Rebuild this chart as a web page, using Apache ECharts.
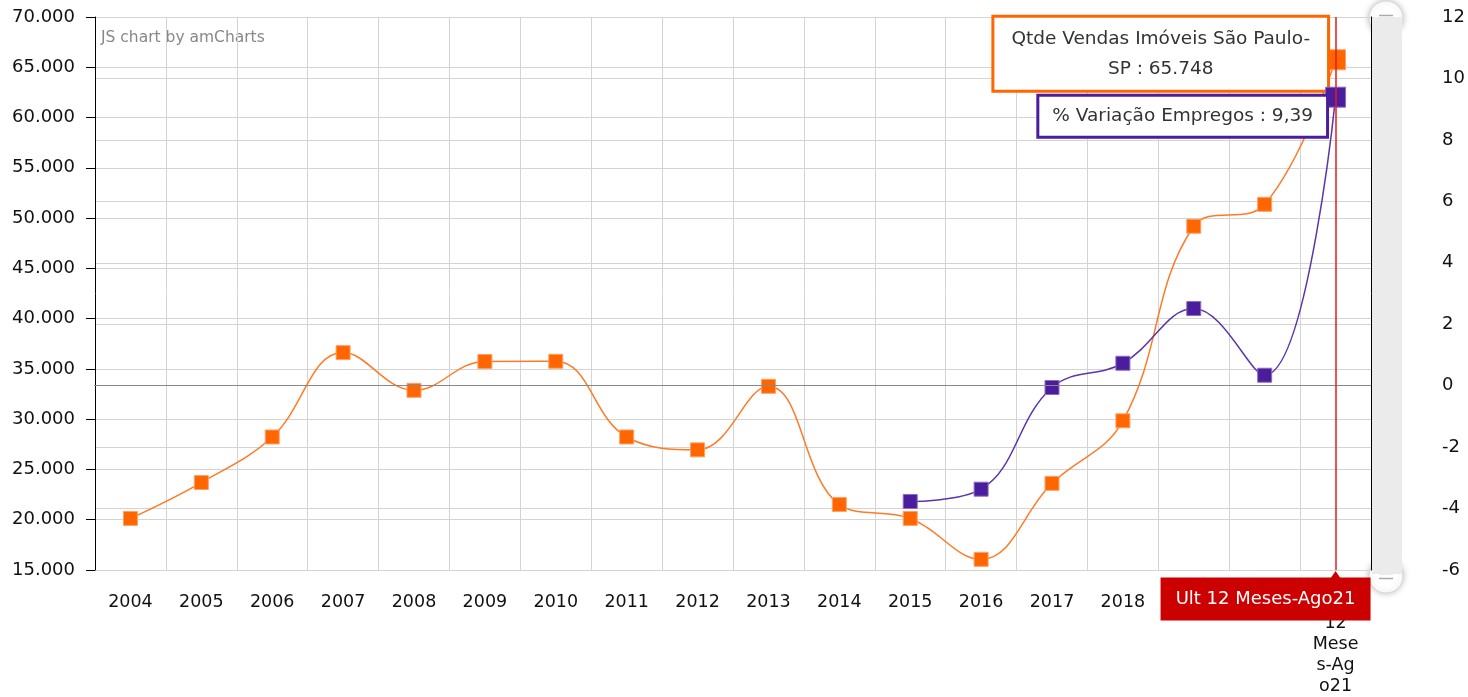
<!DOCTYPE html>
<html>
<head>
<meta charset="utf-8">
<title>Qtde Vendas Imóveis São Paulo-SP x % Variação Empregos</title>
<script src="https://cdn.jsdelivr.net/npm/echarts@6/dist/echarts.min.js"></script>
<style>
  html, body { margin: 0; padding: 0; background: #fff; overflow: hidden; }
  #chart { width: 1468px; height: 697px; }
</style>
</head>
<body>
<div id="chart"></div>
<script>
// dados
var categorias = ['2004', '2005', '2006', '2007', '2008', '2009', '2010', '2011', '2012',
  '2013', '2014', '2015', '2016', '2017', '2018', '2019', '2020', 'Ult 12 Meses-Ago21'];
var vendas = [20130, 23700, 28230, 36620, 32870, 35740, 35760, 28230, 26950,
  33270, 21520, 20130, 16060, 23620, 29840, 49190, 51370, 65748];
var empregos = [null, null, null, null, null, null, null, null, null,
  null, null, -3.77, -3.37, -0.06, 0.73, 2.51, 0.34, 9.39];
var nomeVendas = 'Qtde Vendas Imóveis São Paulo-SP';
var nomeEmpregos = '% Variação Empregos';

var LARANJA = '#ff6600';
var ROXO = '#4b1c9c';
var VERMELHO = '#cc0000';
var FONTE = '"DejaVu Sans", Verdana, sans-serif';

// milhar com ponto
function formatNumber(n) {
  return String(n).replace(/\B(?=(\d{3})+(?!\d))/g, '.');
}

var ultimo = categorias.length - 1;

var vendasData = vendas.map(function (v, i) {
  if (i !== ultimo) return v;
  return {
    value: v,
    symbolSize: 20,
    label: {
      show: true,
      position: 'left',
      distance: 0,
      offset: [2, -6],
      formatter: function (p) {
        return '{t|Qtde Vendas Imóveis São Paulo-}\n{t|SP : ' + formatNumber(p.value) + '}';
      },
      rich: {
        t: { align: 'center', fontSize: 18.5, fontFamily: FONTE, color: '#333', lineHeight: 30 }
      },
      backgroundColor: '#fff',
      borderColor: LARANJA,
      borderWidth: 3,
      padding: [6, 17, 6, 17]
    }
  };
});

var empregosData = empregos.map(function (v, i) {
  if (i !== ultimo) return v;
  return {
    value: v,
    symbolSize: 20,
    label: {
      show: true,
      position: 'left',
      distance: 0,
      offset: [1, 19],
      formatter: function (p) {
        return nomeEmpregos + ' : ' + String(p.value).replace('.', ',');
      },
      backgroundColor: '#fff',
      borderColor: ROXO,
      borderWidth: 3,
      padding: [10, 13, 9, 13],
      lineHeight: 20,
      fontSize: 18.5,
      fontFamily: FONTE,
      color: '#333'
    }
  };
});

var chart = echarts.init(document.getElementById('chart'), null, { renderer: 'canvas' });

var option = {
  animation: false,
  backgroundColor: '#fff',
  grid: {
    left: 95,
    right: 97,
    top: 17,
    bottom: 123
  },
  xAxis: {
    type: 'category',
    data: categorias,
    boundaryGap: true,
    axisLine: { lineStyle: { color: '#000', width: 1 } },
    axisTick: { alignWithLabel: true, length: 8, lineStyle: { color: '#000' } },
    axisLabel: {
      interval: 0,
      margin: 22,
      fontSize: 17.5,
      fontFamily: FONTE,
      color: '#111',
      lineHeight: 21,
      formatter: function (v) {
        if (v === 'Ult 12 Meses-Ago21') return 'Ult\n12\nMese\ns-Ag\no21';
        return v;
      }
    },
    splitLine: { show: true, interval: 0, lineStyle: { color: '#d4d4d4' } },
    // cursor fixo na última categoria
    axisPointer: {
      show: true,
      type: 'line',
      value: ultimo,
      status: 'show',
      triggerTooltip: false,
      snap: false,
      lineStyle: { color: '#e31b1b', width: 1.5, type: 'solid' },
      label: { show: false }
    }
  },
  yAxis: [
    {
      type: 'value',
      min: 15000,
      max: 70000,
      interval: 5000,
      axisLine: { show: true, lineStyle: { color: '#000' } },
      axisTick: { show: true, length: 9, lineStyle: { color: '#000' } },
      axisLabel: {
        margin: 20,
        fontSize: 18,
        fontFamily: FONTE,
        color: '#111',
        formatter: formatNumber
      },
      splitLine: { lineStyle: { color: '#d4d4d4' } }
    },
    {
      type: 'value',
      position: 'right',
      min: -6,
      max: 12,
      interval: 2,
      axisLine: { show: true, lineStyle: { color: '#000' } },
      axisTick: { show: false },
      axisLabel: {
        margin: 71,
        fontSize: 18,
        fontFamily: FONTE,
        color: '#111'
      },
      splitLine: { show: true, lineStyle: { color: '#d4d4d4' } }
    }
  ],
  series: [
    {
      name: nomeVendas,
      type: 'line',
      yAxisIndex: 0,
      smooth: 0.4,
      symbol: 'rect',
      symbolSize: 14,
      data: vendasData,
      z: 3,
      itemStyle: { color: LARANJA, borderColor: '#ffa066', borderWidth: 1 },
      lineStyle: { color: '#ff7a26', width: 1.5 }
    },
    {
      name: nomeEmpregos,
      type: 'line',
      yAxisIndex: 1,
      smooth: 0.4,
      symbol: 'rect',
      symbolSize: 14,
      connectNulls: false,
      data: empregosData,
      z: 4,
      itemStyle: { color: ROXO, borderColor: '#8a6cc4', borderWidth: 1 },
      lineStyle: { color: '#5a36aa', width: 1.5 },
      // linha base do zero
      markLine: {
        silent: true,
        symbol: 'none',
        label: { show: false },
        lineStyle: { color: '#888', width: 1, type: 'solid' },
        data: [{ yAxis: 0 }]
      },
      // rótulo do cursor no eixo x
      markPoint: {
        silent: true,
        z: 10,
        data: [
          {
            coord: ['Ult 12 Meses-Ago21', -6],
            symbol: 'rect',
            symbolSize: [210, 43],
            symbolOffset: [-70, 29],
            itemStyle: { color: VERMELHO },
            label: {
              show: true,
              position: 'inside',
              formatter: 'Ult 12 Meses-Ago21',
              color: '#fff',
              fontSize: 18,
              fontFamily: FONTE
            }
          },
          {
            coord: ['Ult 12 Meses-Ago21', -6],
            symbol: 'triangle',
            symbolSize: [11, 8],
            symbolOffset: [0, 5],
            itemStyle: { color: VERMELHO },
            label: { show: false }
          }
        ]
      }
    }
  ],
  graphic: [
    {
      type: 'text',
      left: 101,
      top: 30,
      style: { text: 'JS chart by amCharts', fill: '#888', font: '15.5px ' + FONTE }
    },
    // barra de rolagem
    {
      type: 'rect',
      shape: { x: 1372, y: 17, width: 30, height: 557 },
      style: { fill: '#ebebeb' },
      z: 1
    },
    {
      type: 'group',
      x: 1386,
      y: 18,
      z: 5,
      children: [
        { type: 'circle', shape: { cx: 0, cy: 0, r: 17 }, style: { fill: '#fff', stroke: '#d8d8d8', shadowBlur: 6, shadowColor: 'rgba(0,0,0,0.25)' } },
        { type: 'line', shape: { x1: -7, y1: -2.5, x2: 7, y2: -2.5 }, style: { stroke: '#aaa', lineWidth: 1.5 } },
        { type: 'line', shape: { x1: -7, y1: 2.5, x2: 7, y2: 2.5 }, style: { stroke: '#aaa', lineWidth: 1.5 } }
      ]
    },
    {
      type: 'group',
      x: 1386,
      y: 576,
      z: 5,
      children: [
        { type: 'circle', shape: { cx: 0, cy: 0, r: 17 }, style: { fill: '#fff', stroke: '#d8d8d8', shadowBlur: 6, shadowColor: 'rgba(0,0,0,0.25)' } },
        { type: 'line', shape: { x1: -7, y1: -2.5, x2: 7, y2: -2.5 }, style: { stroke: '#aaa', lineWidth: 1.5 } },
        { type: 'line', shape: { x1: -7, y1: 2.5, x2: 7, y2: 2.5 }, style: { stroke: '#aaa', lineWidth: 1.5 } }
      ]
    }
  ]
};

chart.setOption(option);
</script>
</body>
</html>
